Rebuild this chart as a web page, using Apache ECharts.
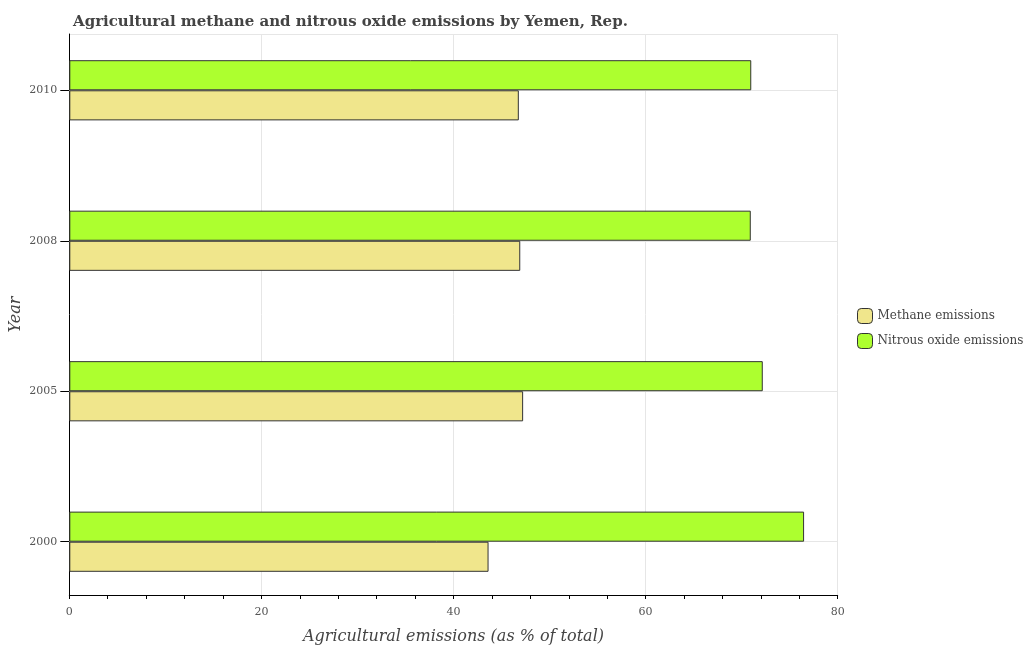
<!DOCTYPE html>
<html>
<head>
<meta charset="utf-8">
<script src="https://cdn.jsdelivr.net/npm/echarts@6/dist/echarts.min.js"></script>
<style>html,body{margin:0;padding:0;background:#fff;}#c{width:1031px;height:650px;}</style>
</head>
<body>
<div id="c"></div>
<script>
const years = ['2000', '2005', '2008', '2010'];
const methane = [43.65, 47.25, 46.95, 46.8];
const nitrous = [76.5, 72.2, 70.95, 71.0];
const xTicks = [0, 20, 40, 60, 80];
const seriesNames = ['Methane emissions', 'Nitrous oxide emissions'];

const serif = 'DejaVu Serif';
const chart = echarts.init(document.getElementById('c'));
const gridL = 69.3, gridR = 193.3;
chart.setOption({
  backgroundColor: '#fff',
  animation: false,
  title: {
    text: 'Agricultural methane and nitrous oxide emissions by Yemen, Rep.',
    left: 68, top: 10,
    textStyle: {fontFamily: serif, fontWeight: 'bold', fontSize: 15, color: '#444'}
  },
  legend: {
    orient: 'vertical', left: 852, top: 303,
    itemWidth: 15, itemHeight: 15, itemGap: 9,
    icon: 'roundRect',
    data: seriesNames,
    textStyle: {fontFamily: serif, fontSize: 12, color: '#444'},
    itemStyle: {borderColor: '#333', borderWidth: 1}
  },
  grid: [
    {left: gridL, right: gridR, top: 34, bottom: 53.3},
    {left: gridL, right: gridR, top: 15.05, bottom: 33.05}
  ],
  xAxis: [
    {
      gridIndex: 0, type: 'value', min: xTicks[0], max: xTicks[xTicks.length - 1], interval: 20,
      name: 'Agricultural emissions (as % of total)', nameLocation: 'middle', nameGap: 34,
      nameTextStyle: {fontFamily: serif, fontStyle: 'italic', fontSize: 16, color: '#444'},
      axisLine: {show: true, lineStyle: {color: '#000', width: 1}},
      axisTick: {show: true, length: 4, lineStyle: {color: '#000'}},
      minorTick: {show: true, splitNumber: 5, length: 4, lineStyle: {color: '#000'}},
      axisLabel: {fontFamily: serif, fontSize: 11, color: '#555', margin: 12},
      splitLine: {show: true, lineStyle: {color: '#e6e6e6', width: 1}}
    },
    {
      gridIndex: 1, type: 'value', min: xTicks[0], max: xTicks[xTicks.length - 1],
      show: false
    }
  ],
  yAxis: [
    {
      gridIndex: 0, type: 'value', min: 0, max: 1, interval: 1,
      name: 'Year', nameLocation: 'middle', nameGap: 45,
      nameTextStyle: {fontFamily: serif, fontStyle: 'italic', fontSize: 16, color: '#444'},
      axisLine: {show: true, lineStyle: {color: '#000', width: 1}},
      axisTick: {show: false},
      axisLabel: {show: false},
      splitLine: {show: true, lineStyle: {color: '#e6e6e6', width: 1}}
    },
    {
      gridIndex: 1, type: 'category', data: years, position: 'left',
      axisLine: {show: false},
      axisTick: {show: true, alignWithLabel: true, interval: 0, length: 9, lineStyle: {color: '#000'}},
      axisLabel: {fontFamily: serif, fontSize: 11, color: '#555', margin: 12},
      splitLine: {show: false}
    },
    {
      gridIndex: 1, type: 'category', data: years, position: 'left', offset: 0,
      axisLine: {show: false},
      axisTick: {show: true, inside: true, alignWithLabel: true, interval: 0, length: 768.4,
                 lineStyle: {color: '#e6e6e6', width: 1}},
      axisLabel: {show: false},
      splitLine: {show: false}
    }
  ],
  series: [
    {
      name: seriesNames[1], type: 'bar', xAxisIndex: 1, yAxisIndex: 1,
      data: nitrous, barWidth: '20%', barGap: '0%',
      itemStyle: {color: '#adff2f', borderColor: '#333', borderWidth: 1}
    },
    {
      name: seriesNames[0], type: 'bar', xAxisIndex: 1, yAxisIndex: 1,
      data: methane, barWidth: '20%', barGap: '0%',
      itemStyle: {color: '#f0e68c', borderColor: '#333', borderWidth: 1}
    }
  ]
});
</script>
</body>
</html>
